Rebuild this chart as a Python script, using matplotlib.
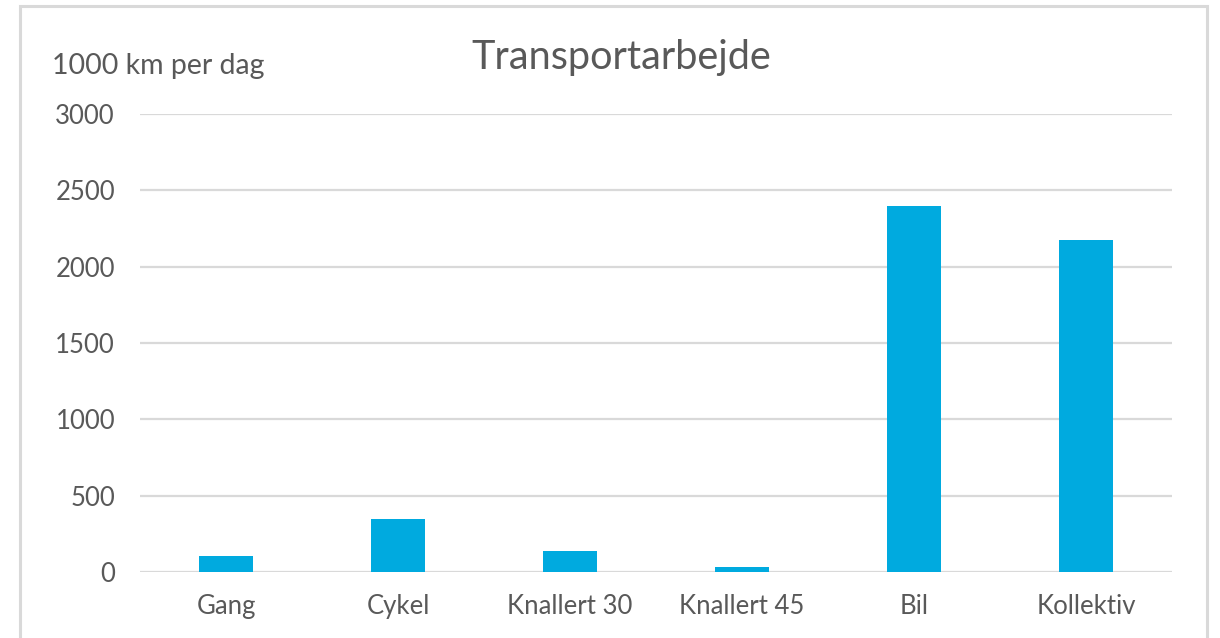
import matplotlib
matplotlib.use("Agg")
import matplotlib.pyplot as plt
from matplotlib.patches import Rectangle

categories = ["Gang", "Cykel", "Knallert 30", "Knallert 45", "Bil", "Kollektiv"]
values = [105, 345, 140, 30, 2400, 2175]
yticks = [0, 500, 1000, 1500, 2000, 2500, 3000]

plt.rcParams['font.family'] = ['Lato', 'DejaVu Sans']
txt = '#595959'
grid = '#d9d9d9'
bar_color = '#00AADF'

fig = plt.figure(figsize=(12.2, 6.38), dpi=100)
fig.patch.set_facecolor('white')

# outer frame
fig.patches.append(Rectangle((20/1220, -0.05), (1207-20)/1220, 1 - 6/638 + 0.05,
                             transform=fig.transFigure, fill=False,
                             edgecolor=grid, linewidth=2.2))

ax = fig.add_axes([140/1220, 1 - 572/638, (1172-140)/1220, (572-114)/638])
x = range(len(categories))
ax.bar(x, values, width=0.31, color=bar_color, zorder=3)
ax.set_xlim(-0.5, len(categories) - 0.5)
ax.set_ylim(0, 3000)
ax.set_yticks(yticks)
ax.set_yticklabels([str(v) for v in yticks])
ax.set_xticks(list(x))
ax.set_xticklabels(categories)
ax.yaxis.grid(True, color=grid, linewidth=1.6, zorder=0)
ax.set_axisbelow(True)
for s in ax.spines.values():
    s.set_visible(False)
ax.tick_params(axis='both', length=0, labelsize=18.5, colors=txt)
ax.tick_params(axis='y', pad=18)
ax.tick_params(axis='x', pad=16)

fig.text(621/1220, 1 - 57/638, "Transportarbejde", ha='center', va='center',
         fontsize=28.5, color=txt)
fig.text(52/1220, 1 - 66/638, "1000 km per dag", ha='left', va='center',
         fontsize=20.5, color=txt)

fig.savefig("out.png", dpi=100, facecolor='white')
